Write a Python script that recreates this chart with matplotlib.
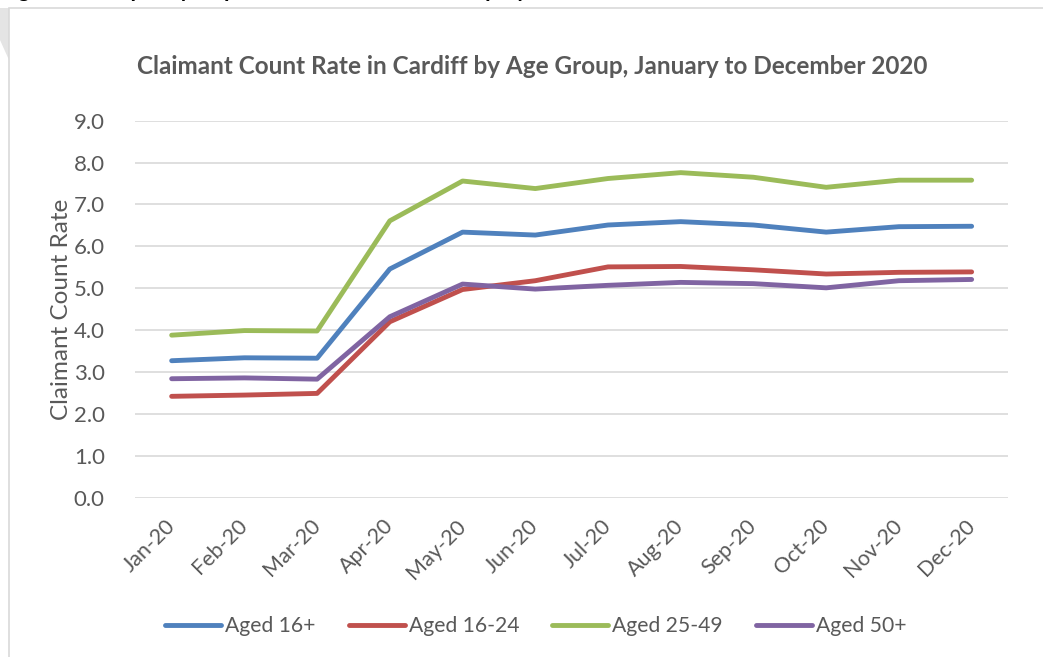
import matplotlib
matplotlib.use("Agg")
import matplotlib.pyplot as plt
from matplotlib.patches import Rectangle, Polygon

months = ["Jan-20", "Feb-20", "Mar-20", "Apr-20", "May-20", "Jun-20",
          "Jul-20", "Aug-20", "Sep-20", "Oct-20", "Nov-20", "Dec-20"]
aged_16_plus = [3.27, 3.34, 3.33, 5.46, 6.34, 6.27, 6.51, 6.59, 6.51, 6.34, 6.47, 6.48]
aged_16_24 = [2.42, 2.45, 2.49, 4.20, 4.97, 5.18, 5.51, 5.52, 5.44, 5.34, 5.38, 5.39]
aged_25_49 = [3.88, 3.99, 3.98, 6.61, 7.56, 7.38, 7.62, 7.76, 7.65, 7.41, 7.58, 7.58]
aged_50_plus = [2.84, 2.86, 2.83, 4.32, 5.10, 4.98, 5.07, 5.14, 5.11, 5.01, 5.18, 5.21]
series_names = ["Aged 16+", "Aged 16-24", "Aged 25-49", "Aged 50+"]
series_colors = ["#4F81BD", "#C0504D", "#9BBB59", "#8064A2"]
y_ticks = [0, 1, 2, 3, 4, 5, 6, 7, 8, 9]

FONT = ["Lato", "DejaVu Sans"]
TXT = "#595959"

fig = plt.figure(figsize=(10.43, 6.57), dpi=100)
fig.patch.set_facecolor("white")

# chart area border and shadow corner
fig.patches.append(Polygon([[0, 1 - 8/657], [9/1043, 1 - 8/657], [9/1043, 1 - 60/657], [0, 1 - 40/657]],
                           closed=True, transform=fig.transFigure, facecolor="#E4E4E4", edgecolor="none",
                           zorder=-2))
fig.patches.append(Rectangle((9/1043, -0.01), 1.1, 1 - 8/657 + 0.01, transform=fig.transFigure,
                             facecolor="white", edgecolor="#D9D9D9", linewidth=1.2, zorder=-1))

# cut-off heading above the chart
fig.text(0.0, 1 + 3/657, "Figure 3: Inequality Gap in Claimant Count Unemployment", fontsize=16,
         fontweight="bold", family=FONT, color="black", ha="left", va="baseline")

ax = fig.add_axes([135.3/1043, 1 - 497.7/657, (1008 - 135.3)/1043, (497.7 - 120.7)/657])
ax.patch.set_alpha(0)
x = list(range(len(months)))
for vals, name, col in zip([aged_16_plus, aged_16_24, aged_25_49, aged_50_plus], series_names, series_colors):
    ax.plot(x, vals, color=col, lw=3.5, solid_capstyle="round", solid_joinstyle="round", label=name)

ax.set_xlim(-0.5, 11.5)
ax.set_ylim(0, 9)
ax.set_yticks(y_ticks)
ax.set_yticklabels([f"{v:.1f}" for v in y_ticks], fontsize=16, color=TXT, family=FONT)
ax.set_xticks(x)
ax.set_xticklabels(months, fontsize=15.5, color=TXT, family=FONT, rotation=45,
                   ha="right", va="center", rotation_mode="anchor")
ax.tick_params(axis="x", length=0, pad=18)
ax.tick_params(axis="y", length=0, pad=22)
ax.grid(axis="y", color="#D9D9D9", lw=1.2)
ax.set_axisbelow(True)
for s in ax.spines.values():
    s.set_visible(False)

ax.set_ylabel("Claimant Count Rate", fontsize=17.5, color=TXT, family=FONT, labelpad=1)

fig.text(532/1043, 1 - 67/657, "Claimant Count Rate in Cardiff by Age Group, January to December 2020",
         fontsize=17.5, fontweight="bold", color=TXT, family=FONT, ha="center", va="center")

leg = fig.legend(loc="center", bbox_to_anchor=(536/1043, 1 - 626/657), ncol=4, frameon=False,
                 prop={"family": FONT, "size": 15.2}, handlelength=2.65, handletextpad=0.19,
                 columnspacing=1.57, labelcolor=TXT)

fig.savefig("out.png", dpi=100, facecolor="white")
